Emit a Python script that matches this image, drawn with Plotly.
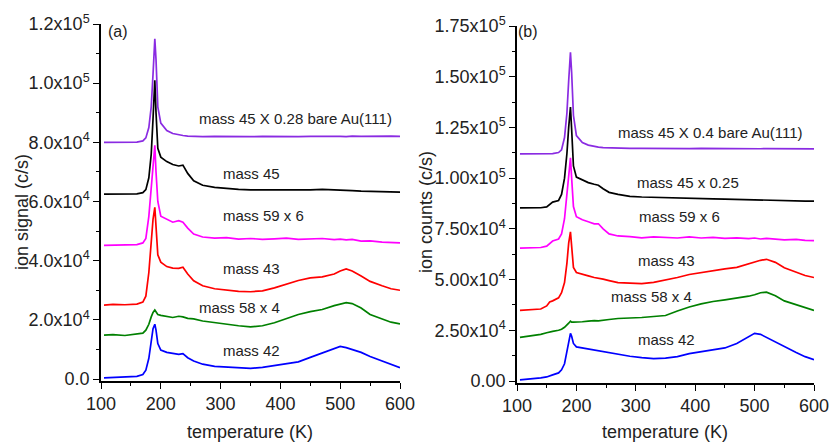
import plotly.graph_objects as go

# ---------------- data ----------------
T_a = [105, 120, 140, 160, 170, 175, 180, 184, 187, 190, 192, 195, 200, 210, 220, 230, 237, 245, 255,
       270, 290, 310, 330, 350, 370, 390, 410, 430, 450, 470, 490, 500, 510, 520, 535, 550, 570, 585, 600]

a_m45_bare = [80000, 80000, 80000, 80100, 80500, 81500, 85000, 92000, 103000, 115000, 108000, 92000, 86500,
              84000, 83000, 82500, 82300, 82100, 82000, 81900, 82000, 81900, 82000, 81900, 82000, 81900,
              82000, 81900, 82000, 82100, 82000, 82000, 81900, 82100, 82000, 82100, 82000, 82100, 82000]
a_m45 = [62500, 62500, 62500, 62600, 63000, 64000, 68000, 76000, 88000, 101000, 90000, 78000, 75000,
         73500, 72500, 72000, 72300, 69500, 67000, 65500, 64800, 64400, 64100, 63900, 63900, 63800,
         63900, 63800, 63900, 64100, 64000, 63900, 63800, 63700, 63500, 63400, 63300, 63300, 63200]
a_m59 = [45200, 45300, 45200, 45400, 46000, 47500, 55000, 65000, 74000, 79000, 70000, 60000, 55000,
         54000, 53000, 53500, 53000, 51000, 49000, 48000, 47600, 47800, 47300, 47500, 47200, 47400,
         47600, 47200, 47300, 47500, 47100, 47300, 47000, 47200, 46600, 46700, 46300, 46200, 46000]
a_m43 = [25000, 25200, 25100, 25300, 26000, 28000, 36000, 46000, 54000, 58000, 50000, 42000, 39500,
         38000, 37500, 37400, 37800, 35500, 33200, 31500, 30500, 30000, 29600, 29500, 29800, 30800,
         32000, 33300, 34200, 34500, 35500, 36500, 37200, 36500, 34800, 33000, 31500, 30500, 30000]
a_m58 = [14800, 15000, 14700, 15100, 15500, 16500, 18500, 21000, 22500, 23300, 22500, 21800, 21500,
         21200, 20800, 21200, 21000, 20500, 20300, 19600, 19000, 18500, 18000, 17600, 18000, 19000,
         20300, 21800, 22800, 23500, 24800, 25200, 25800, 25500, 24000, 21800, 20300, 19200, 18600]
a_m42 = [400, 500, 800, 900, 1500, 3000, 7000, 13000, 17000, 18500, 16500, 12000, 9800,
         9000, 8700, 8300, 8600, 7200, 6100, 5000, 4300, 4000, 3700, 3600, 3900, 4500,
         5200, 5800, 7300, 8800, 10500, 11000, 10600, 10000, 9000, 7600, 6000, 4800, 3800]

T_b = [105, 120, 140, 150, 155, 160, 170, 175, 180, 184, 187, 190, 192, 195, 200, 210, 220, 230, 237, 245,
       255, 270, 290, 310, 330, 350, 370, 390, 410, 430, 450, 470, 490, 500, 510, 520, 535, 550, 570, 585, 600]

b_m45_bare = [112000, 112000, 112000, 112000, 112000, 112100, 112600, 114000, 120000, 132000, 148000, 162000,
              152000, 131000, 121000, 117500, 116300, 115600, 115300, 115000, 114900, 114800, 114700, 114700,
              114600, 114700, 114600, 114600, 114700, 114600, 114600, 114500, 114600, 114500, 114500, 114600,
              114500, 114400, 114500, 114400, 114400]
b_m45 = [85300, 85300, 85400, 85800, 87000, 88200, 89000, 92000, 100000, 112000, 125000, 135000,
         124000, 106000, 100500, 99000, 97800, 97000, 96500, 94800, 93000, 92000, 91000, 90700,
         90500, 90300, 90200, 90000, 90000, 89800, 89700, 89500, 89400, 89300, 89200, 89200,
         89000, 88900, 88800, 88700, 88700]
b_m59 = [65500, 65600, 65800, 66500, 67800, 69000, 70000, 72500, 80000, 92000, 104000, 110000,
         100000, 86000, 81000, 79500, 78500, 77500, 77500, 75000, 72500, 71500, 71200, 70600,
         71000, 70800, 70500, 71000, 70500, 70800, 70300, 70600, 70200, 70500, 70000, 70300,
         69800, 69600, 69800, 69300, 69200]
b_m43 = [34800, 35000, 35500, 37000, 39000, 39500, 41000, 43500, 48500, 58000, 68000, 73500,
         66000, 56000, 53500, 52500, 51800, 51000, 50800, 50200, 49500, 48500, 48200, 48000,
         48600, 49700, 51000, 52500, 53500, 54500, 55300, 56000, 57800, 58800, 59500, 60000,
         58500, 55800, 53500, 52000, 51000]
b_m58 = [21500, 22000, 23000, 23800, 24200, 24500, 25000, 25500, 26500, 27500, 28500, 29500,
         29000, 29000, 29000, 29200, 29500, 29800, 29600, 30000, 30300, 30800, 30900, 31300,
         31800, 32300, 34500, 36500, 38000, 39200, 40000, 40800, 41800, 42500, 43500, 43800,
         42000, 39500, 37500, 36000, 34800]
b_m42 = [600, 900, 1500, 2000, 2400, 3000, 4000, 5500, 8500, 15000, 20000, 23500,
         22000, 18500, 16800, 16300, 15800, 15200, 15000, 14500, 14000, 13000, 12200, 11500,
         11000, 11300, 12000, 13500, 14500, 15300, 16300, 18500, 22000, 23500, 23000, 21500,
         19000, 16800, 14000, 12000, 10500]

labels_a = ["mass 45 X 0.28 bare Au(111)", "mass 45", "mass 59 x 6", "mass 43", "mass 58 x 4", "mass 42"]
labels_b = ["mass 45 X 0.4 bare Au(111)", "mass 45 x 0.25", "mass 59 x 6", "mass 43", "mass 58 x 4", "mass 42"]

yt_a_vals = [0, 20000, 40000, 60000, 80000, 100000, 120000]
yt_a_text = ["0.0", "2.0x10<sup>4</sup>", "4.0x10<sup>4</sup>", "6.0x10<sup>4</sup>",
             "8.0x10<sup>4</sup>", "1.0x10<sup>5</sup>", "1.2x10<sup>5</sup>"]
yt_b_vals = [0, 25000, 50000, 75000, 100000, 125000, 150000, 175000]
yt_b_text = ["0.00", "2.50x10<sup>4</sup>", "5.00x10<sup>4</sup>", "7.50x10<sup>4</sup>",
             "1.00x10<sup>5</sup>", "1.25x10<sup>5</sup>", "1.50x10<sup>5</sup>", "1.75x10<sup>5</sup>"]
xt_vals = [100, 200, 300, 400, 500, 600]

colors = ["#8A2BE2", "#000000", "#FF00FF", "#FF0000", "#008000", "#0000FF"]

# ---------------- figure ----------------
fig = go.Figure()
series_a = [a_m45_bare, a_m45, a_m59, a_m43, a_m58, a_m42]
series_b = [b_m45_bare, b_m45, b_m59, b_m43, b_m58, b_m42]
for ys, c in zip(series_a, colors):
    fig.add_trace(go.Scatter(x=T_a, y=ys, mode="lines", line=dict(color=c, width=1.7),
                             xaxis="x", yaxis="y", showlegend=False))
for ys, c in zip(series_b, colors):
    fig.add_trace(go.Scatter(x=T_b, y=ys, mode="lines", line=dict(color=c, width=1.7),
                             xaxis="x2", yaxis="y2", showlegend=False))

W, H = 829, 443
OFF = 0  # page body margin is removed by the post_script below
FONT = "Liberation Sans, Arial, sans-serif"

def px(x):
    return (x - OFF) / W

def py(y):
    return 1 - (y - OFF) / H

def xdom(p0, p1):
    return [px(p0), px(p1)]

def ydom(top, bottom):
    return [py(bottom), py(top)]

axis_common = dict(showline=True, linecolor="black", linewidth=1.5, ticks="outside", ticklen=6,
                   tickwidth=1.3, tickcolor="black", showgrid=False, zeroline=False, automargin=False,
                   ticklabeloverflow="allow",
                   tickfont=dict(family=FONT, size=18, color="#222"))

fig.update_layout(
    template="none",
    width=W, height=H, margin=dict(l=0, r=0, t=0, b=0, pad=0),
    paper_bgcolor="white", plot_bgcolor="white",
    xaxis=dict(domain=xdom(101, 400), range=[100, 600], anchor="y", tickmode="array", tickvals=xt_vals,
               minor=dict(ticks="outside", ticklen=3, tickmode="linear", tick0=100, dtick=50,
                          tickcolor="black", tickwidth=1.2), **axis_common),
    yaxis=dict(domain=ydom(24, 381), range=[-676, 120000], anchor="x", tickmode="array",
               tickvals=yt_a_vals, ticktext=yt_a_text,
               minor=dict(ticks="outside", ticklen=3, tickmode="linear", tick0=0, dtick=10000,
                          tickcolor="black", tickwidth=1.2), **axis_common),
    xaxis2=dict(domain=xdom(517, 814), range=[100, 600], anchor="y2", tickmode="array", tickvals=xt_vals,
                minor=dict(ticks="outside", ticklen=3, tickmode="linear", tick0=100, dtick=50,
                           tickcolor="black", tickwidth=1.2), **axis_common),
    yaxis2=dict(domain=ydom(26, 383), range=[-986, 175000], anchor="x2", tickmode="array",
                tickvals=yt_b_vals, ticktext=yt_b_text,
                minor=dict(ticks="outside", ticklen=3, tickmode="linear", tick0=0, dtick=12500,
                           tickcolor="black", tickwidth=1.2), **axis_common),
)

ann = []
C = dict(showarrow=False, xanchor="center", yanchor="middle")
pos_a = [(426, 88200), (352, 69600), (372, 55400), (352, 37500), (332, 24300), (352, 9500)]
for (x, y), t in zip(pos_a, labels_a):
    ann.append(dict(x=x, y=y, xref="x", yref="y", text=t,
                    font=dict(family=FONT, size=15, color="#222"), **C))
pos_b = [(425, 122300), (388, 98100), (374, 81300), (351, 59200), (327, 41900), (351, 20700)]
for (x, y), t in zip(pos_b, labels_b):
    ann.append(dict(x=x, y=y, xref="x2", yref="y2", text=t,
                    font=dict(family=FONT, size=15, color="#222"), **C))
ann.append(dict(x=128, y=117600, xref="x", yref="y", text="(a)",
                font=dict(family=FONT, size=16, color="#222"), **C))
ann.append(dict(x=119, y=172300, xref="x2", yref="y2", text="(b)",
                font=dict(family=FONT, size=16, color="#222"), **C))
# axis titles
ann.append(dict(x=px(250), y=py(432), xref="paper", yref="paper", text="temperature (K)",
                font=dict(family=FONT, size=18, color="#222"), **C))
ann.append(dict(x=px(665), y=py(432), xref="paper", yref="paper", text="temperature (K)",
                font=dict(family=FONT, size=18, color="#222"), **C))
ann.append(dict(x=px(22), y=py(212), xref="paper", yref="paper", text="ion signal (c/s)",
                textangle=-90, font=dict(family=FONT, size=18, color="#222"), **C))
ann.append(dict(x=px(426), y=py(212), xref="paper", yref="paper", text="ion counts (c/s)",
                textangle=-90, font=dict(family=FONT, size=18, color="#222"), **C))
fig.update_layout(annotations=ann)

fig.write_html("out.html", config={"displayModeBar": False},
               post_script="document.body.style.margin='0px';")
